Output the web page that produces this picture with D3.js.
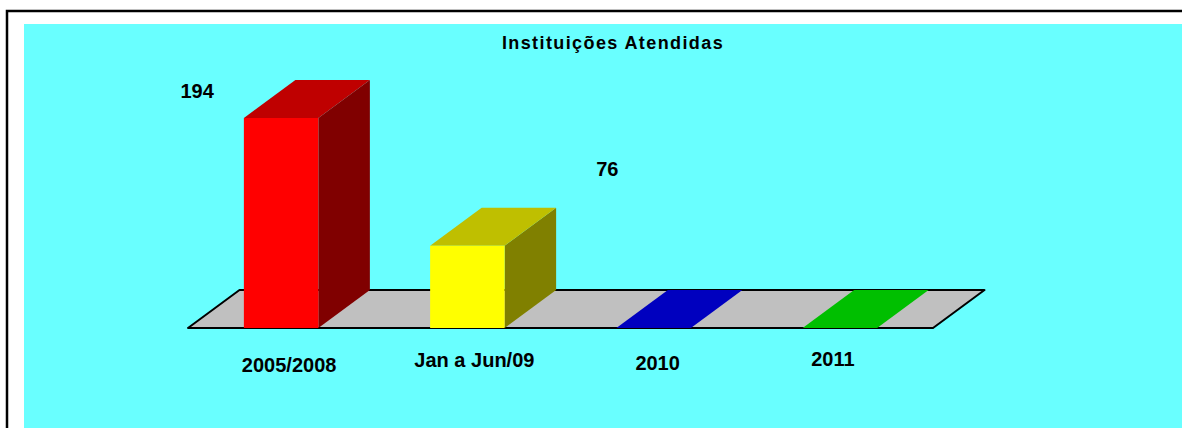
<!DOCTYPE html>
<html>
<head>
<meta charset="utf-8">
<script src="https://cdn.jsdelivr.net/npm/d3@7"></script>
<style>
  html, body { margin: 0; padding: 0; background: #fff; }
  svg { display: block; }
  text { font-family: Arial, "Liberation Sans", sans-serif; font-weight: bold; fill: #000; }
</style>
</head>
<body>
<script>
/* Data */

const categories = ['2005/2008', 'Jan a Jun/09', '2010', '2011'];
const values = [194, 76, 0, 0];
const baseColors = ['#ff0000', '#ffff00', '#0000ff', '#00ff00'];
const title = 'Instituições Atendidas';

/* Layout */

const width = 1182, height = 428;
const floorY = 328;                 // front edge of the floor
const depth = { dx: 51.5, dy: -38 }; // 3d offset front -> back

// hand placed labels (as in the original sheet)
const valueLabelShift = [[-84, -20], [140, -70]];
const catLabelShift = [[8, 44], [7, 39], [4, 42], [-7, 38]];

const svg = d3.select('body').append('svg')
    .attr('width', width)
    .attr('height', height);

// outer frame + plot background
svg.append('rect')
    .attr('x', 7).attr('y', 11)
    .attr('width', width + 20).attr('height', height + 20)
    .attr('fill', '#fff')
    .attr('stroke', '#000')
    .attr('stroke-width', 2.5);

svg.append('rect')
    .attr('x', 24).attr('y', 24)
    .attr('width', width).attr('height', height)
    .attr('fill', '#69ffff');

svg.append('text')
    .attr('x', 613).attr('y', 49)
    .attr('text-anchor', 'middle')
    .attr('font-size', 18)
    .attr('letter-spacing', 1.4)
    .text(title);

/* Scales */

const x = d3.scaleBand()
    .domain(categories)
    .range([188, 933])
    .paddingInner(0.6)
    .paddingOuter(0.3);

const y = d3.scaleLinear()
    .domain([0, 200])
    .range([floorY, floorY - 216.5]);

const shade = (c, k) => {
    const col = d3.rgb(c);
    return d3.rgb(col.r * k, col.g * k, col.b * k).formatHex();
};

const poly = pts => d3.line()(pts) + 'Z';

/* Floor */

const [fx0, fx1] = x.range();
svg.append('path')
    .attr('d', poly([
        [fx0, floorY], [fx1, floorY],
        [fx1 + depth.dx, floorY + depth.dy], [fx0 + depth.dx, floorY + depth.dy]
    ]))
    .attr('fill', '#c0c0c0')
    .attr('stroke', '#000')
    .attr('stroke-width', 2)
    .attr('stroke-linejoin', 'round');

/* Bars */

const bars = svg.append('g').selectAll('g')
    .data(categories.map((c, i) => ({ c, v: values[i], color: baseColors[i], i })))
    .join('g');

bars.each(function (d) {
    const g = d3.select(this);
    const x0 = x(d.c), x1 = x0 + x.bandwidth();
    const yt = y(d.v), yb = y(0);
    const { dx, dy } = depth;

    if (d.v > 0) {
        // side
        g.append('path')
            .attr('d', poly([[x1, yb], [x1 + dx, yb + dy], [x1 + dx, yt + dy], [x1, yt]]))
            .attr('fill', shade(d.color, 0.5));
    }
    // top
    g.append('path')
        .attr('d', poly([[x0, yt], [x1, yt], [x1 + dx, yt + dy], [x0 + dx, yt + dy]]))
        .attr('fill', shade(d.color, 0.75));
    if (d.v > 0) {
        // front
        g.append('rect')
            .attr('x', x0).attr('y', yt)
            .attr('width', x1 - x0).attr('height', yb - yt)
            .attr('fill', d.color);
    }
});

/* Labels */

bars.filter(d => d.v > 0).append('text')
    .attr('x', d => x(d.c) + x.bandwidth() / 2 + valueLabelShift[d.i][0])
    .attr('y', d => y(d.v) + valueLabelShift[d.i][1])
    .attr('text-anchor', 'middle')
    .attr('font-size', 20)
    .text(d => d.v);

svg.append('g').selectAll('text')
    .data(categories)
    .join('text')
    .attr('x', (d, i) => x(d) + x.bandwidth() / 2 + catLabelShift[i][0])
    .attr('y', (d, i) => floorY + catLabelShift[i][1])
    .attr('text-anchor', 'middle')
    .attr('font-size', 20)
    .text(d => d);
</script>
</body>
</html>
